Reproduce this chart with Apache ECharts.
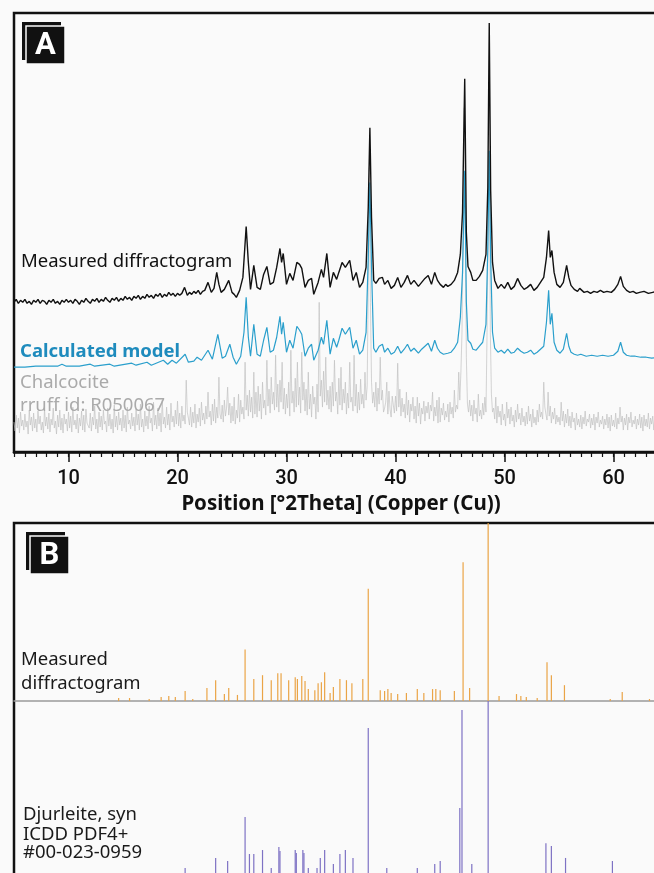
<!DOCTYPE html>
<html>
<head>
<meta charset="utf-8">
<script src="https://cdn.jsdelivr.net/npm/echarts@6/dist/echarts.min.js"></script>
<style>
html, body { margin: 0; padding: 0; background: #fafafa; }
#chart { width: 654px; height: 873px; }
</style>
</head>
<body>
<div id="chart"></div>
<script>
// panel A: [2theta, intensity (a.u.)]
const measured = [[5.0,150],[5.2,153],[5.4,149],[5.6,152],[5.8,150],[6.0,153],[6.2,149],[6.4,151],[6.6,148],[6.8,152],[7.0,150],[7.2,153],[7.4,149],[7.6,152],[7.8,151],[8.0,148],[8.2,152],[8.4,150],[8.6,153],[8.8,149],[9.0,151],[9.2,148],[9.4,152],[9.6,150],[9.8,153],[10.0,150],[10.2,152],[10.4,149],[10.6,153],[10.8,151],[11.0,148],[11.2,152],[11.4,150],[11.6,154],[11.8,151],[12.0,149],[12.2,153],[12.4,151],[12.6,154],[12.8,150],[13.0,153],[13.2,151],[13.4,155],[13.6,152],[13.8,150],[14.0,154],[14.2,152],[14.4,155],[14.6,151],[14.8,154],[15.0,152],[15.2,156],[15.4,153],[15.6,155],[15.8,152],[16.0,156],[16.2,154],[16.4,157],[16.6,153],[16.8,156],[17.0,154],[17.2,158],[17.4,155],[17.6,157],[17.8,154],[18.0,158],[18.2,156],[18.4,159],[18.6,155],[18.8,158],[19.0,156],[19.2,160],[19.4,157],[19.6,159],[19.8,156],[20.0,159],[20.2,157],[20.4,159],[20.65,165],[20.9,157],[21.1,160],[21.3,158],[21.5,161],[21.7,159],[21.9,162],[22.1,158],[22.3,161],[22.5,162],[22.8,170],[23.1,160],[23.35,164],[23.6,180],[23.8,168],[24.0,160],[24.3,163],[24.7,172],[25.0,160],[25.2,158],[25.4,155],[25.7,162],[26.0,175],[26.3,226],[26.5,190],[26.7,163],[27.0,187],[27.3,165],[27.6,163],[27.9,178],[28.2,186],[28.5,168],[28.8,170],[29.1,185],[29.4,204],[29.55,190],[29.7,199],[30.0,168],[30.3,179],[30.6,172],[30.95,190],[31.2,188],[31.4,184],[31.7,165],[32.0,172],[32.3,174],[32.5,158],[32.9,170],[33.2,183],[33.4,175],[33.7,199],[34.0,165],[34.3,180],[34.6,173],[34.8,180],[35.1,190],[35.4,185],[35.8,192],[36.1,172],[36.4,180],[36.7,165],[37.0,170],[37.3,185],[37.5,245],[37.65,325],[37.8,235],[38.0,172],[38.2,169],[38.5,174],[38.8,175],[39.0,168],[39.3,172],[39.6,164],[39.9,167],[40.2,175],[40.5,165],[40.8,170],[41.1,177],[41.4,168],[41.7,172],[42.1,166],[42.4,170],[42.7,174],[43.0,177],[43.3,168],[43.6,180],[43.85,172],[44.1,168],[44.4,165],[44.6,168],[44.8,166],[45.1,168],[45.4,172],[45.7,180],[45.95,198],[46.15,240],[46.35,374],[46.5,220],[46.65,186],[46.9,180],[47.1,172],[47.4,172],[47.7,176],[48.0,182],[48.3,198],[48.47,265],[48.6,430],[48.73,262],[48.9,190],[49.1,172],[49.4,164],[49.7,168],[50.0,164],[50.3,170],[50.6,163],[50.9,166],[51.2,174],[51.5,167],[51.8,163],[52.1,165],[52.4,168],[52.7,162],[53.0,165],[53.3,170],[53.6,175],[53.85,195],[54.05,222],[54.2,195],[54.35,202],[54.55,180],[54.8,168],[55.1,165],[55.4,170],[55.7,187],[55.9,175],[56.1,167],[56.4,163],[56.7,161],[56.9,164],[57.0,163],[57.3,160],[57.6,161],[57.9,159],[58.2,161],[58.5,160],[58.8,162],[59.1,160],[59.4,161],[59.8,160],[60.1,163],[60.4,168],[60.65,176],[60.9,166],[61.2,162],[61.5,160],[61.8,161],[62.1,159],[62.4,160],[62.8,161],[63.2,159],[63.6,160],[64.0,161]];

const calculated = [[5.0,85],[6.0,85],[7.0,86],[8.0,86],[9.0,86],[9.4,88],[9.8,86],[11.0,86],[12.0,88],[12.4,86],[13.8,88],[14.2,86],[15.8,89],[16.2,87],[17.2,90],[17.6,87],[18.7,92],[19.1,88],[19.5,92],[19.9,89],[20.7,98],[21.0,90],[21.5,91],[21.8,95],[22.2,92],[22.8,102],[23.2,93],[23.7,118],[24.1,94],[24.4,96],[24.8,108],[25.1,95],[25.4,88],[25.8,96],[26.1,120],[26.3,155],[26.5,115],[26.7,96],[27.0,128],[27.3,98],[27.6,96],[27.9,112],[28.2,125],[28.5,100],[28.8,102],[29.1,115],[29.4,136],[29.55,118],[29.7,130],[30.0,100],[30.3,112],[30.6,104],[30.95,126],[31.2,122],[31.4,118],[31.7,96],[32.0,104],[32.3,108],[32.5,92],[32.9,102],[33.2,115],[33.4,108],[33.7,132],[34.0,98],[34.3,114],[34.6,105],[34.8,112],[35.1,124],[35.4,118],[35.8,125],[36.1,104],[36.4,112],[36.7,98],[37.0,102],[37.3,120],[37.5,195],[37.65,270],[37.8,185],[38.0,104],[38.2,100],[38.5,106],[38.8,108],[39.0,100],[39.3,104],[39.6,98],[39.9,100],[40.2,106],[40.5,99],[40.8,103],[41.1,108],[41.4,101],[41.7,104],[42.1,99],[42.4,103],[42.7,106],[43.0,109],[43.3,101],[43.6,112],[43.85,104],[44.1,100],[44.4,98],[44.8,99],[45.1,100],[45.4,104],[45.7,110],[45.95,135],[46.15,180],[46.35,282],[46.5,150],[46.65,112],[46.9,109],[47.1,103],[47.4,102],[47.7,106],[48.0,110],[48.3,128],[48.47,205],[48.6,302],[48.73,195],[48.9,120],[49.1,104],[49.4,100],[49.7,102],[50.0,99],[50.3,103],[50.6,99],[50.9,100],[51.2,104],[51.5,101],[51.8,99],[52.1,100],[52.4,102],[52.7,98],[53.0,100],[53.3,103],[53.6,106],[53.85,130],[54.05,162],[54.2,128],[54.35,139],[54.55,110],[54.8,102],[55.1,99],[55.4,103],[55.7,119],[55.9,106],[56.1,100],[56.4,98],[56.7,97],[57.0,98],[57.5,96],[58.0,97],[58.5,96],[59.0,97],[59.5,96],[60.0,97],[60.4,101],[60.65,110],[60.9,100],[61.2,97],[61.6,96],[62.0,96],[62.5,95],[63.0,95],[63.5,94],[64.0,95]];

// chalcocite reference, sampled every 0.1 deg from 5.0 (one row per degree)
const chalcStart = 5.0;
const chalcStep = 0.1;
const chalcocite = [
  30,21,37,24,34,19,40,26,32,22,
  38,25,31,18,42,27,35,21,39,24,
  33,20,41,28,36,22,30,19,43,26,
  35,23,39,20,33,27,44,24,31,18,
  37,25,42,22,34,19,38,28,33,21,
  40,24,36,20,45,27,32,23,38,19,
  34,26,41,22,37,20,43,29,31,24,
  39,21,35,27,46,23,33,19,40,25,
  36,22,42,28,31,20,44,26,38,23,
  33,19,47,25,36,22,40,27,34,21,
  42,24,37,20,45,28,32,23,39,26,
  35,21,43,27,38,22,48,25,33,20,
  41,26,36,23,46,29,34,21,50,27,
  37,23,44,26,39,20,52,28,35,24,
  45,27,38,22,49,30,36,25,42,28,
  51,26,39,24,46,31,37,28,72,40,
  34,27,45,25,40,29,48,24,38,30,
  44,26,50,32,39,28,46,33,60,35,
  41,27,48,31,53,29,45,34,75,38,
  33,47,30,52,36,44,65,37,49,29,
  46,31,55,28,42,34,58,30,52,38,
  45,33,90,42,57,36,62,40,55,34,
  80,38,60,35,66,41,58,33,70,44,
  52,37,92,46,63,39,75,48,60,42,
  97,45,68,40,72,50,90,43,64,38,
  58,44,70,36,102,49,61,40,74,45,
  90,47,65,39,100,52,70,41,63,37,
  80,43,58,35,66,48,55,33,68,40,
  150,56,72,45,81,50,95,47,62,43,
  66,40,70,46,92,51,60,38,74,47,
  85,42,63,49,70,38,59,44,90,50,
  55,41,97,46,68,39,60,42,73,48,
  58,44,80,52,66,170,285,150,70,49,
  60,45,70,41,64,48,95,52,62,40,
  44,50,70,38,61,43,35,56,47,39,
  56,41,89,45,63,36,54,40,48,34,
  60,37,52,30,48,41,55,33,46,29,
  55,36,49,28,44,38,51,31,46,39,
  50,33,47,41,60,31,45,36,52,29,
  55,30,44,37,49,32,41,35,48,30,
  50,38,45,34,62,40,47,43,80,52,
  80,120,220,345,250,95,48,40,52,36,
  47,31,52,38,44,30,58,36,42,33,
  49,37,55,40,120,230,360,120,58,40,
  44,33,55,29,46,35,41,27,48,32,
  38,26,50,34,43,28,45,31,37,25,
  42,30,48,33,39,27,44,30,36,26,
  40,28,46,31,38,25,43,29,35,27,
  42,30,48,35,40,33,70,45,38,32,
  60,36,46,29,40,33,44,28,37,30,
  35,27,50,31,41,25,38,29,43,26,
  36,24,40,30,34,22,39,27,33,25,
  37,23,35,28,41,26,33,30,38,24,
  34,27,38,22,35,29,40,25,32,28,
  36,23,33,27,38,24,35,21,37,26,
  32,25,39,23,34,28,45,30,36,22,
  34,27,38,22,35,29,40,25,32,28,
  36,23,33,27,38,24,35,21,37,26,
  33,25,39,23,34,28,36,22,35,27,
  31
];

// panel B: [2theta, relative intensity %]
const measuredPeaks = [[14.6,1.7],[15.6,1.7],[17.4,1.1],[18.5,2.2],[19.2,2.8],[19.8,2.2],[20.7,5.6],[21.4,1.1],[22.7,7.3],[23.5,11.7],[24.3,3.9],[24.7,7.3],[25.5,3.4],[26.2,29],[27.0,12.3],[27.8,14.5],[28.6,11.7],[29.2,15.6],[29.5,15.6],[30.2,11.7],[30.8,13.4],[31.0,12.3],[31.4,14],[31.7,11.2],[32.0,6.7],[32.6,6.1],[32.9,10],[33.2,10.6],[33.5,16.2],[34.0,4.5],[34.3,7.8],[34.9,12.3],[35.5,11.7],[36.0,10],[37.0,12.3],[37.5,63],[38.6,6.1],[39.0,5.6],[39.3,6.7],[39.6,4.5],[40.2,3.9],[41.0,4.5],[42.0,6.7],[42.6,4.5],[43.4,6.7],[43.7,6.7],[44.1,6.1],[45.4,5.6],[46.2,78],[46.8,7.3],[48.5,100],[49.5,2.8],[51.1,3.9],[51.5,2.8],[52.0,2.2],[53.0,1.7],[53.9,21.8],[54.3,14.5],[55.5,8.9],[59.7,1.1],[60.8,5],[63.3,1.1]];

const djurleitePeaks = [[20.7,7.2],[23.5,12.8],[24.6,11.1],[26.2,35.6],[26.6,15],[27.0,15],[27.8,17.2],[28.6,7.2],[29.3,18.9],[29.4,16.7],[30.8,17.2],[30.9,15.6],[31.5,17.2],[31.6,15.6],[32.0,7.2],[32.8,7.2],[33.1,12.8],[33.5,17.2],[34.3,9.4],[34.9,15],[35.4,17.2],[36.1,12.8],[37.5,85],[39.2,7.2],[42.0,7.2],[43.6,9.4],[44.1,11.1],[45.9,40.6],[46.1,95],[47.0,9.4],[48.5,100],[53.8,21],[54.3,19.4],[55.6,12.8],[59.9,11.1]];

const majorTicks = [10, 20, 30, 40, 50, 60];

const FONT = '"Noto Sans", Roboto, sans-serif';
const NUM_FONT = 'Roboto, "Noto Sans", sans-serif';
const chalcData = chalcocite.map((v, i) => [+(chalcStart + i * chalcStep).toFixed(2), v]);

const chart = echarts.init(document.getElementById('chart'));

const stickItem = (params, api) => {
    const top = api.coord([api.value(0), api.value(1)]);
    const base = api.coord([api.value(0), 0]);
    return {
        type: 'line',
        shape: { x1: top[0], y1: top[1], x2: base[0], y2: base[1] },
        style: { stroke: api.visual('color'), lineWidth: 1.2 }
    };
};

const label = (text, x, y, color, weight) => ({
    type: 'text', x: x, y: y, z: 100,
    style: { text: text, fill: color, font: (weight || 'normal') + ' 18.5px ' + FONT, verticalAlign: 'middle' }
});

const badge = (letter, x, y) => ({
    type: 'group', x: x, y: y, z: 100,
    children: [
        { type: 'rect', shape: { x: 0, y: 0, width: 39, height: 38 }, style: { fill: '#111' } },
        { type: 'rect', shape: { x: 4, y: 4, width: 39, height: 38 }, style: { fill: '#111', stroke: '#fafafa', lineWidth: 1.5 } },
        { type: 'text', x: 23.5, y: 24, style: { text: letter, fill: '#fff', font: 'bold 31px ' + NUM_FONT, align: 'center', verticalAlign: 'middle' } }
    ]
});

const hiddenX = (grid) => ({ type: 'value', gridIndex: grid, min: 5, max: 65, show: false });

// grids run past the right (and bottom) edge of the page, like the cropped original
const gridBase = { left: 14, width: 654, outerBoundsMode: 'none', containLabel: false };

const option = {
    backgroundColor: '#fafafa',
    animation: false,
    grid: [
        Object.assign({ top: 13, height: 439, show: true, borderColor: '#111', borderWidth: 2.5 }, gridBase),
        Object.assign({ top: 523, height: 380, show: true, borderColor: '#111', borderWidth: 2.5 }, gridBase),
        Object.assign({ top: 523, height: 178 }, gridBase),
        Object.assign({ top: 701, height: 180 }, gridBase)
    ],
    xAxis: [
        {
            type: 'value', gridIndex: 0, min: 5, max: 65, interval: 1, position: 'bottom',
            axisLine: { lineStyle: { color: '#111', width: 2.5 } },
            axisTick: { length: 5, lineStyle: { color: '#111', width: 1.2 } },
            axisLabel: { show: false },
            splitLine: { show: false }
        },
        {
            type: 'value', gridIndex: 0, min: 5, max: 65, position: 'bottom', offset: 0,
            axisLine: { show: false },
            axisTick: { customValues: majorTicks, length: 10, lineStyle: { color: '#111', width: 1.5 } },
            axisLabel: { customValues: majorTicks, margin: 17, color: '#111', fontSize: 20, fontWeight: 500, fontFamily: NUM_FONT },
            splitLine: { show: false },
            name: 'Position [°2Theta] (Copper (Cu))',
            nameLocation: 'middle',
            nameGap: 40,
            nameTextStyle: { color: '#111', fontSize: 20.5, fontWeight: 'bold', fontFamily: FONT }
        },
        hiddenX(1),
        {
            type: 'value', gridIndex: 2, min: 5, max: 65,
            axisLine: { lineStyle: { color: '#9a9a9a', width: 1.5 } },
            axisTick: { show: false }, axisLabel: { show: false }, splitLine: { show: false }
        },
        hiddenX(3)
    ],
    yAxis: [
        { type: 'value', gridIndex: 0, min: 0, max: 440, show: false },
        { type: 'value', gridIndex: 1, min: 0, max: 100, show: false },
        { type: 'value', gridIndex: 2, min: 0, max: 100, show: false },
        { type: 'value', gridIndex: 3, min: 0, max: 100, show: false }
    ],
    series: [
        {
            name: 'Chalcocite', type: 'line', xAxisIndex: 0, yAxisIndex: 0, data: chalcData,
            showSymbol: false, lineStyle: { color: '#c2c2c2', width: 0.7 }, z: 1
        },
        {
            name: 'Calculated model', type: 'line', xAxisIndex: 0, yAxisIndex: 0, data: calculated,
            showSymbol: false, lineStyle: { color: '#2a9fcc', width: 1.2 }, z: 2
        },
        {
            name: 'Measured diffractogram', type: 'line', xAxisIndex: 0, yAxisIndex: 0, data: measured,
            showSymbol: false, lineStyle: { color: '#111', width: 1.4 }, z: 3
        },
        {
            name: 'Measured peaks', type: 'custom', xAxisIndex: 3, yAxisIndex: 2, data: measuredPeaks,
            encode: { x: 0, y: 1 }, itemStyle: { color: '#eaa446' }, renderItem: stickItem, clip: true
        },
        {
            name: 'Djurleite', type: 'custom', xAxisIndex: 4, yAxisIndex: 3, data: djurleitePeaks,
            encode: { x: 0, y: 1 }, itemStyle: { color: '#7e72c4' }, renderItem: stickItem, clip: true
        }
    ],
    graphic: [
        badge('A', 22, 22),
        badge('B', 26, 532),
        label('Measured diffractogram', 21, 262, '#111'),
        label('Calculated model', 20, 352, '#1e8bbd', 'bold'),
        label('Chalcocite', 20, 383, '#aaaaaa'),
        label('rruff id: R050067', 20, 406, '#aaaaaa'),
        label('Measured', 21, 660, '#1a1a1a'),
        label('diffractogram', 21, 684, '#1a1a1a'),
        label('Djurleite, syn', 23, 815, '#1a1a1a'),
        label('ICDD PDF4+', 23, 835, '#1a1a1a'),
        label('#00-023-0959', 23, 853, '#1a1a1a')
    ]
};

chart.setOption(option);
</script>
</body>
</html>
